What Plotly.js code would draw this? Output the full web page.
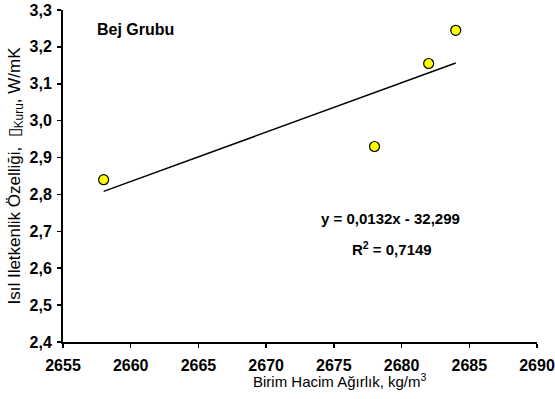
<!DOCTYPE html>
<html>
<head>
<meta charset="utf-8">
<script src="https://cdn.plot.ly/plotly-3.0.1.min.js"></script>
<style>
  html, body { margin: 0; padding: 0; background: #fff; }
  #chart { width: 555px; height: 399px; }
</style>
</head>
<body>
<div id="chart"></div>
<script>
// Unit weight (kg/m3) and dry thermal conductivity (W/mK) for the beige group
const birimHacim = [2658, 2678, 2682, 2684];
const isilIletkenlik = [2.84, 2.93, 3.155, 3.245];
const xTicks = [2655, 2660, 2665, 2670, 2675, 2680, 2685, 2690];
const yTicks = [2.4, 2.5, 2.6, 2.7, 2.8, 2.9, 3.0, 3.1, 3.2, 3.3];
const grupAdi = 'Bej Grubu';
const denklemText = 'y = 0,0132x - 32,299';
const r2Text = 'R<sup>2</sup> = 0,7149';

// Least-squares linear trend through the measured points
function linearFit(xs, ys) {
  const n = xs.length;
  const mx = xs.reduce((a, b) => a + b, 0) / n;
  const my = ys.reduce((a, b) => a + b, 0) / n;
  let sxy = 0, sxx = 0;
  for (let i = 0; i < n; i++) {
    sxy += (xs[i] - mx) * (ys[i] - my);
    sxx += (xs[i] - mx) * (xs[i] - mx);
  }
  const slope = sxy / sxx;
  return { slope, intercept: my - slope * mx };
}
const fit = linearFit(birimHacim, isilIletkenlik);
const trendX = [Math.min(...birimHacim), Math.max(...birimHacim)];
const trendY = trendX.map(x => fit.intercept + fit.slope * x);

const FONT = '"Liberation Sans", Arial, sans-serif';
const BLACK = '#000';

const traces = [
  {
    x: trendX, y: trendY, mode: 'lines', type: 'scatter',
    line: { color: BLACK, width: 1.5 }, hoverinfo: 'skip', showlegend: false
  },
  {
    x: birimHacim, y: isilIletkenlik, mode: 'markers', type: 'scatter',
    marker: { color: '#FFFF00', size: 10, line: { color: BLACK, width: 1.2 } },
    showlegend: false
  }
];

const layout = {
  width: 555, height: 399,
  margin: { l: 63, r: 18, t: 10, b: 57 },
  paper_bgcolor: '#fff', plot_bgcolor: '#fff',
  separators: ',.',
  font: { family: FONT, color: BLACK, size: 16 },
  showlegend: false,
  xaxis: {
    range: [2655, 2690], tickvals: xTicks, ticktext: xTicks.map(String),
    showgrid: false, zeroline: false,
    showline: true, linecolor: BLACK, linewidth: 2,
    ticks: 'outside', ticklen: 4, tickwidth: 1.5, tickcolor: BLACK,
    ticklabelstandoff: 4,
    tickfont: { family: FONT, size: 16, weight: 'bold', color: BLACK },
    fixedrange: true
  },
  yaxis: {
    range: [2.4, 3.3], tickvals: yTicks, ticktext: yTicks.map(v => v.toFixed(1).replace('.', ',')),
    showgrid: false, zeroline: false,
    showline: true, linecolor: BLACK, linewidth: 2,
    ticks: 'outside', ticklen: 4, tickwidth: 1.5, tickcolor: BLACK,
    ticklabelstandoff: 2,
    tickfont: { family: FONT, size: 16, weight: 'bold', color: BLACK },
    title: {
      text: 'Isıl Iletkenlik Özelliği,  ▯<sub>Kuru</sub>, W/mK',
      font: { family: FONT, size: 17, color: BLACK }, standoff: 5
    },
    fixedrange: true
  },
  annotations: [
    { xref: 'paper', yref: 'paper', x: (95 - 63) / 474, y: (342 - 29) / 332, xanchor: 'left', yanchor: 'middle',
      text: grupAdi, showarrow: false, font: { family: FONT, size: 16, weight: 'bold', color: BLACK } },
    { xref: 'paper', yref: 'paper', x: (390 - 63) / 474, y: (342 - 218) / 332, xanchor: 'center', yanchor: 'middle',
      text: denklemText, showarrow: false, font: { family: FONT, size: 15, weight: 'bold', color: BLACK } },
    { xref: 'paper', yref: 'paper', x: (392 - 63) / 474, y: (342 - 248) / 332, xanchor: 'center', yanchor: 'middle',
      text: r2Text, showarrow: false, font: { family: FONT, size: 15, weight: 'bold', color: BLACK } },
    { xref: 'paper', yref: 'paper', x: (340 - 63) / 474, y: (342 - 381) / 332, xanchor: 'center', yanchor: 'middle',
      text: 'Birim Hacim Ağırlık, kg/m<sup>3</sup>', showarrow: false, font: { family: FONT, size: 15, color: BLACK } }
  ]
};

Plotly.newPlot('chart', traces, layout, { displayModeBar: false, staticPlot: true });
</script>
</body>
</html>
